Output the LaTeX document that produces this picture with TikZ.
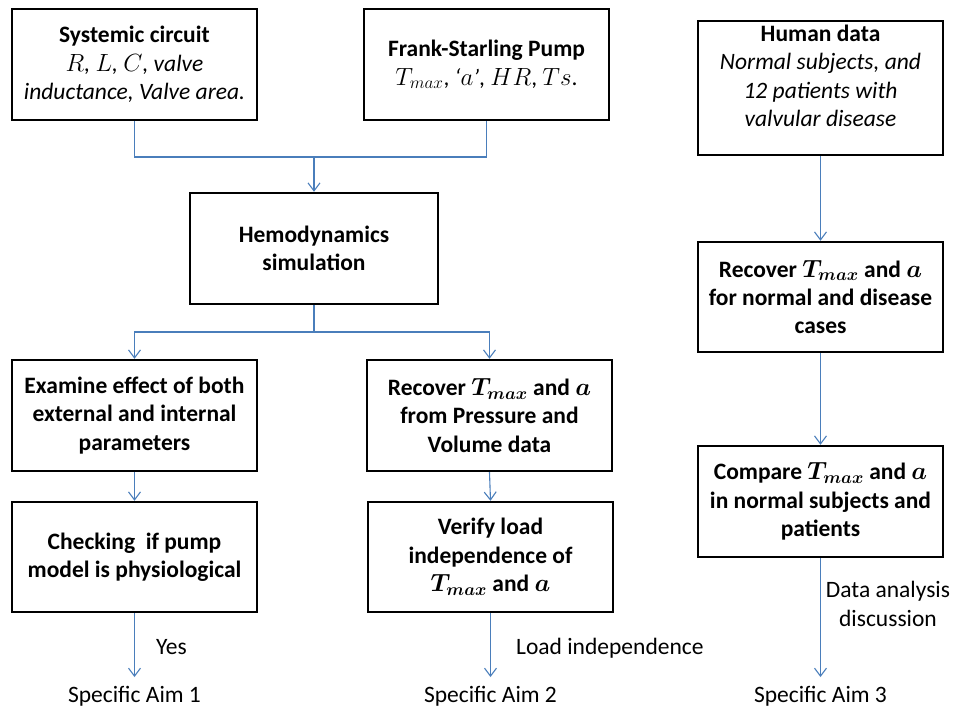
\documentclass[tikz,border=0pt]{standalone}
\usepackage{amsmath,bm}
\usepackage{fontspec}
\setmainfont{Carlito}
\usetikzlibrary{arrows.meta}
\definecolor{conn}{RGB}{74,126,187}
\begin{document}
\begin{tikzpicture}[x=1pt,y=-1pt,
 box/.style={draw=black, line width=2.4pt, fill=white, inner sep=0pt, minimum width=245pt, minimum height=111pt, align=center, font=\fontsize{23.5}{28.4}\selectfont\bfseries},
 lbl/.style={font=\fontsize{23.5}{28.4}\selectfont, inner sep=0pt, align=center},
 link/.style={draw=conn, line width=1.1pt},
 arr/.style={link, -{Straight Barb[length=8pt,width=12pt]}}]
\useasboundingbox (0,0) rectangle (954,709);
% boxes
\node[box] (sys) at (134.5,64.5) {Systemic circuit\\ \mdseries\itshape $R$, $L$, $C$, valve\\ \mdseries\itshape inductance, Valve area.};
\node[box] (frank) at (486.5,64.5) {Frank-Starling Pump\\ \mdseries $T_{max}$, \textit{`}$a$\textit{'}, $HR$, $Ts$.};
\node[box, minimum width=248pt] (hemo) at (314,248.5) {Hemodynamics\\simulation};
\node[box, minimum height=134pt] (human) at (820.5,88) {};
\node[lbl] (humantext) at (820.5,76) {\bfseries Human data\\ \itshape Normal subjects, and\\ \itshape 12 patients with\\ \itshape valvular disease};
\node[box] (exam) at (134.5,415.5) {Examine effect of both\\external and internal\\parameters};
\node[box] (recm) at (489.5,415.5) {Recover $\bm{T_{max}}$ and $\bm{a}$\\from Pressure and\\Volume data};
\node[box, minimum height=110pt] (check) at (134.5,557) {Checking\ \ if pump\\model is physiological};
\node[box, minimum height=110pt] (verify) at (490.5,557) {Verify load\\independence of\\$\bm{T_{max}}$ and $\bm{a}$};
\node[box, minimum height=110pt] (recr) at (820.5,297) {Recover $\bm{T_{max}}$ and $\bm{a}$\\for normal and disease\\cases};
\node[box] (comp) at (820.5,501.5) {Compare $\bm{T_{max}}$ and $\bm{a}$\\in normal subjects and\\patients};
% end labels
\node[lbl, anchor=base] (aim1) at (134.5,702.5) {Specific Aim 1};
\node[lbl, anchor=base] (aim2) at (490.5,702.5) {Specific Aim 2};
\node[lbl, anchor=base] (aim3) at (820.5,702.5) {Specific Aim 3};
% junctions
\coordinate (j1) at (314,157);
\coordinate (j2) at (314,332);
% connectors
\draw[link] (sys.south) |- (j1);
\draw[link] (frank.south) |- (j1);
\draw[arr] (j1) -- (hemo.north);
\draw[link] (hemo.south) -- (j2);
\draw[arr] (j2) -| (exam.north);
\draw[arr] (j2) -| (recm.north);
\draw[arr] (exam) -- (check);
\draw[arr] (recm.south) -- (verify.north);
\draw[arr] (human) -- (recr);
\draw[arr] (recr) -- (comp);
\draw[arr, shorten >=9pt] (check) -- (aim1);
\draw[arr, shorten >=9pt] (verify) -- (aim2);
\draw[arr, shorten >=9pt] (comp) -- (aim3);
% connector labels
\node[lbl, anchor=base west] (lyes) at (156,654.5) {Yes};
\node[lbl, anchor=base west] (lload) at (516,654.5) {Load independence};
\node[lbl] (ldata) at (888,604) {Data analysis\\discussion};
\end{tikzpicture}
\end{document}
